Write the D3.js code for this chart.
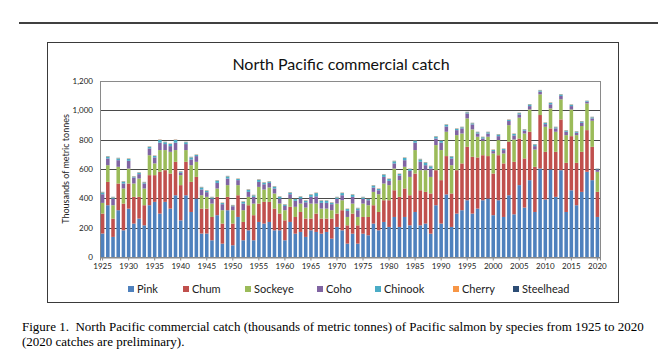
<!DOCTYPE html>
<html>
<head>
<meta charset="utf-8">
<script src="https://cdn.jsdelivr.net/npm/d3@7/dist/d3.min.js"></script>
<style>
  body { margin: 0; background: #fff; }
  svg { display: block; }
</style>
</head>
<body>
<script>
// catch by species, thousands of metric tonnes, 1925-2020
var years = d3.range(1925, 2021);
var species = ["Pink", "Chum", "Sockeye", "Coho", "Chinook", "Cherry", "Steelhead"];

var pink = [160,353,137,319,182,330,228,262,216,353,376,296,376,330,421,250,421,307,398,160,
  160,114,285,91,319,80,273,114,182,114,239,228,239,182,182,114,239,159,171,137,
  182,171,159,171,125,205,182,91,159,91,159,148,228,182,239,205,273,205,273,216,
  307,216,228,159,353,228,427,205,296,319,387,296,330,387,398,285,387,273,421,291,
  490,337,524,307,603,392,597,410,592,307,455,353,444,581,524,273];
var chum = [136,159,125,182,182,171,182,148,137,205,182,285,216,239,228,240,228,205,148,170,
  170,159,125,137,91,148,148,125,171,171,125,148,137,148,114,136,103,114,136,125,
  80,125,103,91,137,91,137,125,137,125,114,125,125,125,148,182,182,205,194,205,
  262,239,216,274,239,296,261,228,296,319,364,387,349,307,290,284,307,365,365,358,
  318,335,330,308,365,325,280,307,346,335,369,289,273,284,227,171];
var sockeye = [73,114,91,114,103,102,91,125,114,136,80,148,137,148,80,68,80,114,103,91,
  80,91,57,91,80,91,69,80,57,79,114,84,98,103,68,69,56,69,57,75,
  102,68,68,68,57,68,68,57,68,57,91,80,91,121,114,103,148,114,148,125,
  160,137,148,113,171,205,166,193,239,204,194,187,141,98,132,137,103,68,113,152,
  142,170,152,118,141,171,136,137,137,189,182,189,176,182,178,137];
var coho = [59,46,45,45,34,53,41,30,34,46,41,50,41,39,50,16,41,39,39,39,
  32,34,38,41,45,27,34,45,34,46,34,36,31,34,34,29,30,41,34,36,
  46,50,39,39,41,32,34,41,46,46,32,34,30,27,45,29,35,32,45,41,
  50,57,34,57,45,50,36,46,34,35,34,34,22,16,22,16,27,23,28,28,
  22,19,23,23,18,18,28,23,23,23,23,16,22,12,16,16];
var chinook = [13,13,9,13,13,13,6,10,8,11,10,19,13,15,19,8,13,15,8,15,
  10,9,16,8,15,6,8,13,15,11,15,11,9,13,13,9,11,12,13,11,
  15,22,15,15,10,11,15,13,15,13,11,8,13,9,16,13,15,10,16,13,
  15,17,18,16,13,15,12,13,9,8,8,8,9,9,9,8,11,8,8,10,
  9,8,11,11,9,9,10,8,10,8,9,8,9,5,8,4];
var cherry = [2,2,2,2,2,2,2,2,2,2,2,2,2,2,2,2,2,2,2,2,
  2,2,2,2,2,2,2,2,2,2,2,2,2,2,2,2,2,2,2,2,
  2,2,2,2,2,2,2,2,2,2,2,2,2,2,2,2,2,2,2,2,
  2,2,2,2,2,2,2,2,2,2,2,2,2,2,2,2,2,2,2,2,
  2,2,2,2,2,2,2,2,2,2,2,2,2,1,2,1];
var steelhead = [1,1,1,1,1,1,1,1,1,1,1,1,1,1,1,1,1,1,1,1,
  1,1,1,1,1,1,1,1,1,1,1,1,1,1,1,1,1,1,1,1,
  1,1,1,1,1,1,1,1,1,1,1,1,1,1,1,1,1,1,1,1,
  1,1,1,1,1,1,1,1,1,1,1,1,1,1,1,1,1,1,1,1,
  1,1,1,1,1,1,1,1,1,1,1,1,1,1,1,1];

var colours = ["#4f81bd", "#c0504d", "#9bbb59", "#8064a2", "#4bacc6", "#f79646", "#2c4d75"];
var yTicks = [0, 200, 400, 600, 800, 1000, 1200];
var xLabels = d3.range(1925, 2021, 5);

var series = [pink, chum, sockeye, coho, chinook, cherry, steelhead];
var table = years.map(function(y, i) {
  var row = { year: y };
  species.forEach(function(s, j) { row[s] = series[j][i]; });
  return row;
});

var width = 658, height = 361;
var svg = d3.select("body").append("svg")
  .attr("width", width)
  .attr("height", height);

// rule across the top of the page
svg.append("line")
  .attr("x1", 19).attr("x2", 658)
  .attr("y1", 23).attr("y2", 23)
  .attr("stroke", "#000").attr("stroke-width", 1.6);

// chart frame
svg.append("rect")
  .attr("x", 47.5).attr("y", 42.5)
  .attr("width", 571).attr("height", 260)
  .attr("fill", "#fff")
  .attr("stroke", "#3a3a3a").attr("stroke-width", 1);

svg.append("text")
  .attr("x", 341).attr("y", 70)
  .attr("text-anchor", "middle")
  .attr("font-family", "Lato, 'Open Sans', sans-serif")
  .attr("font-size", 16)
  .attr("fill", "#111")
  .text("North Pacific commercial catch");

var x = d3.scaleBand().domain(years).range([100, 600]).paddingInner(0.32).paddingOuter(0.16);
var y = d3.scaleLinear().domain([0, 1200]).range([257, 81]);

// gridlines
svg.append("g")
  .selectAll("line")
  .data(yTicks.slice(1))
  .enter().append("line")
  .attr("x1", 100).attr("x2", 600)
  .attr("y1", function(d) { return Math.round(y(d)) + 0.5; })
  .attr("y2", function(d) { return Math.round(y(d)) + 0.5; })
  .attr("stroke", "#4a4a4a").attr("stroke-width", 1);

// plot area border (left/right)
svg.append("rect")
  .attr("x", 100.5).attr("y", Math.round(y(1200)) + 0.5)
  .attr("width", 500).attr("height", Math.round(y(0)) - Math.round(y(1200)))
  .attr("fill", "none")
  .attr("stroke", "#8a8a8a").attr("stroke-width", 1);

var stack = d3.stack().keys(species);
var layers = stack(table);

svg.append("g")
  .selectAll("g")
  .data(layers)
  .enter().append("g")
  .attr("fill", function(d, i) { return colours[i]; })
  .selectAll("rect")
  .data(function(d) { return d; })
  .enter().append("rect")
  .attr("x", function(d) { return x(d.data.year); })
  .attr("width", x.bandwidth())
  .attr("y", function(d) { return y(d[1]); })
  .attr("height", function(d) { return Math.max(0, y(d[0]) - y(d[1])); });

// axes
var xAxis = d3.axisBottom(x)
  .tickValues(xLabels)
  .tickSize(3)
  .tickPadding(3);
var gx = svg.append("g")
  .attr("transform", "translate(0," + (Math.round(y(0)) + 0.5) + ")")
  .call(xAxis);
gx.select(".domain").attr("stroke", "#8a8a8a");
gx.selectAll(".tick line").attr("stroke", "#8a8a8a");
gx.selectAll("text")
  .attr("font-family", "Lato, 'Open Sans', sans-serif")
  .attr("font-size", 8)
  .attr("fill", "#222");

var yAxis = d3.axisLeft(y)
  .tickValues(yTicks)
  .tickSize(0)
  .tickPadding(7)
  .tickFormat(d3.format(","));
var gy = svg.append("g")
  .attr("transform", "translate(100,0)")
  .call(yAxis);
gy.select(".domain").remove();
gy.selectAll("text")
  .attr("font-family", "Lato, 'Open Sans', sans-serif")
  .attr("font-size", 8)
  .attr("fill", "#222");

svg.append("text")
  .attr("transform", "translate(69,169) rotate(-90)")
  .attr("text-anchor", "middle")
  .attr("font-family", "Lato, 'Open Sans', sans-serif")
  .attr("font-size", 9)
  .attr("fill", "#222")
  .text("Thousands of metric tonnes");

// legend
var legendX = [128, 183, 245, 317, 375, 453, 513];
var legend = svg.append("g")
  .selectAll("g")
  .data(species)
  .enter().append("g")
  .attr("transform", function(d, i) { return "translate(" + legendX[i] + ",286)"; });
legend.append("rect")
  .attr("width", 6).attr("height", 6)
  .attr("fill", function(d, i) { return colours[i]; });
legend.append("text")
  .attr("x", 9).attr("y", 7)
  .attr("font-family", "Lato, 'Open Sans', sans-serif")
  .attr("font-size", 11)
  .attr("fill", "#222")
  .text(function(d) { return d; });

// caption
var caption = [
  "Figure 1.  North Pacific commercial catch (thousands of metric tonnes) of Pacific salmon by species from 1925 to 2020",
  "(2020 catches are preliminary)."
];
svg.append("g")
  .selectAll("text")
  .data(caption)
  .enter().append("text")
  .attr("x", 22)
  .attr("y", function(d, i) { return 331 + i * 15; })
  .attr("font-family", "'Liberation Serif', 'Times New Roman', serif")
  .attr("font-size", 13)
  .attr("fill", "#000")
  .attr("xml:space", "preserve")
  .style("white-space", "pre")
  .text(function(d) { return d; });
</script>
</body>
</html>
